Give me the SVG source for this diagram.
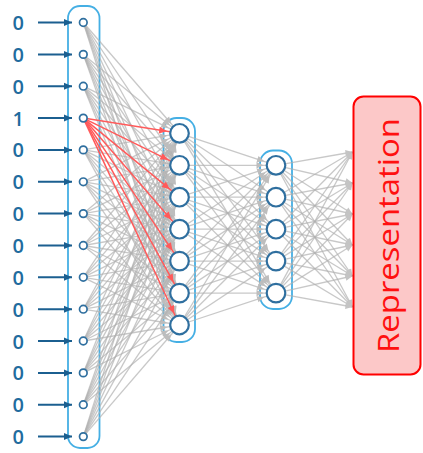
<svg xmlns="http://www.w3.org/2000/svg" width="423" height="453" viewBox="0 0 423 453">
  <style>
    .lbl { font-family: "Open Sans", "DejaVu Sans", sans-serif; font-size: 20px; font-weight: 600; fill: #1f6c9e; text-anchor: middle; }
    .box { fill: none; stroke: #45afe4; stroke-width: 1.8; }
    .in-node { fill: #ffffff; stroke: #2f6f9f; stroke-width: 1.7; }
    .h-node { fill: #ffffff; stroke: #2f6f9f; stroke-width: 2.2; }
    .feed { stroke: #1b5f90; stroke-width: 2; marker-end: url(#headBlue); }
    .w { stroke: #b0b0b0; stroke-opacity: 0.7; stroke-width: 1.3; marker-end: url(#headGray); }
    .wr { stroke: #b0b0b0; stroke-opacity: 0.7; stroke-width: 1.3; marker-end: url(#headGrayEdge); }
    .hot { stroke: #ff5a5a; stroke-width: 1.5; marker-end: url(#headRed); }
  </style>
  <defs>
    <marker id="headBlue" markerUnits="userSpaceOnUse" markerWidth="12" markerHeight="10" refX="10" refY="5" orient="auto" overflow="visible">
      <path d="M2,1.5 L10,5 L2,8.5 Z" fill="#1b5f90"/>
    </marker>
    <!-- tip stops short of the target circle -->
    <marker id="headGray" markerUnits="userSpaceOnUse" markerWidth="40" markerHeight="10" refX="32.5" refY="5" orient="auto" overflow="visible">
      <path d="M13,1.8 L20,5 L13,8.2 Z" fill="#bdbdbd"/>
    </marker>
    <marker id="headGrayEdge" markerUnits="userSpaceOnUse" markerWidth="12" markerHeight="10" refX="10" refY="5" orient="auto" overflow="visible">
      <path d="M3,1.8 L10,5 L3,8.2 Z" fill="#c4c4c4"/>
    </marker>
    <marker id="headRed" markerUnits="userSpaceOnUse" markerWidth="40" markerHeight="10" refX="32.5" refY="5" orient="auto" overflow="visible">
      <path d="M12,1.5 L20,5 L12,8.5 Z" fill="#ff5a5a"/>
    </marker>
  </defs>

  <rect width="423" height="453" fill="#ffffff"/>

  <!-- layer frames -->
  <g id="frames">
    <rect id="input-frame" class="box" x="68" y="6" width="31.5" height="442" rx="12"/>
    <rect id="hidden1-frame" class="box" x="163.5" y="118" width="31.5" height="224" rx="13"/>
    <rect id="hidden2-frame" class="box" x="260" y="150.5" width="32" height="158.5" rx="13"/>
  </g>

  <!-- input values -->
  <g id="inputs">
    <text class="lbl" x="18.3" y="30">0</text>
    <text class="lbl" x="18.3" y="61.9">0</text>
    <text class="lbl" x="18.3" y="93.7">0</text>
    <text class="lbl" x="18.3" y="125.6">1</text>
    <text class="lbl" x="18.3" y="157.4">0</text>
    <text class="lbl" x="18.3" y="189.3">0</text>
    <text class="lbl" x="18.3" y="221.1">0</text>
    <text class="lbl" x="18.3" y="253">0</text>
    <text class="lbl" x="18.3" y="284.8">0</text>
    <text class="lbl" x="18.3" y="316.7">0</text>
    <text class="lbl" x="18.3" y="348.5">0</text>
    <text class="lbl" x="18.3" y="380.4">0</text>
    <text class="lbl" x="18.3" y="412.2">0</text>
    <text class="lbl" x="18.3" y="444.1">0</text>
  </g>

  <g id="connectors">
    <!-- value -> input unit -->
    <g id="feeds">
      <line class="feed" x1="38" y1="22.5" x2="72" y2="22.5"/>
      <line class="feed" x1="38" y1="54.4" x2="72" y2="54.4"/>
      <line class="feed" x1="38" y1="86.2" x2="72" y2="86.2"/>
      <line class="feed" x1="38" y1="118.1" x2="72" y2="118.1"/>
      <line class="feed" x1="38" y1="149.9" x2="72" y2="149.9"/>
      <line class="feed" x1="38" y1="181.8" x2="72" y2="181.8"/>
      <line class="feed" x1="38" y1="213.6" x2="72" y2="213.6"/>
      <line class="feed" x1="38" y1="245.5" x2="72" y2="245.5"/>
      <line class="feed" x1="38" y1="277.3" x2="72" y2="277.3"/>
      <line class="feed" x1="38" y1="309.2" x2="72" y2="309.2"/>
      <line class="feed" x1="38" y1="341" x2="72" y2="341"/>
      <line class="feed" x1="38" y1="372.9" x2="72" y2="372.9"/>
      <line class="feed" x1="38" y1="404.7" x2="72" y2="404.7"/>
      <line class="feed" x1="38" y1="436.6" x2="72" y2="436.6"/>
    </g>

    <!-- input -> hidden layer 1 -->
    <g id="w1">
      <line class="w" x1="83.3" y1="22.5" x2="179.5" y2="133.3"/><line class="w" x1="83.3" y1="22.5" x2="179.5" y2="165.3"/><line class="w" x1="83.3" y1="22.5" x2="179.5" y2="197.2"/><line class="w" x1="83.3" y1="22.5" x2="179.5" y2="229.2"/><line class="w" x1="83.3" y1="22.5" x2="179.5" y2="261.1"/><line class="w" x1="83.3" y1="22.5" x2="179.5" y2="293.1"/><line class="w" x1="83.3" y1="22.5" x2="179.5" y2="325"/>
      <line class="w" x1="83.3" y1="54.4" x2="179.5" y2="133.3"/><line class="w" x1="83.3" y1="54.4" x2="179.5" y2="165.3"/><line class="w" x1="83.3" y1="54.4" x2="179.5" y2="197.2"/><line class="w" x1="83.3" y1="54.4" x2="179.5" y2="229.2"/><line class="w" x1="83.3" y1="54.4" x2="179.5" y2="261.1"/><line class="w" x1="83.3" y1="54.4" x2="179.5" y2="293.1"/><line class="w" x1="83.3" y1="54.4" x2="179.5" y2="325"/>
      <line class="w" x1="83.3" y1="86.2" x2="179.5" y2="133.3"/><line class="w" x1="83.3" y1="86.2" x2="179.5" y2="165.3"/><line class="w" x1="83.3" y1="86.2" x2="179.5" y2="197.2"/><line class="w" x1="83.3" y1="86.2" x2="179.5" y2="229.2"/><line class="w" x1="83.3" y1="86.2" x2="179.5" y2="261.1"/><line class="w" x1="83.3" y1="86.2" x2="179.5" y2="293.1"/><line class="w" x1="83.3" y1="86.2" x2="179.5" y2="325"/>
      <line class="w" x1="83.3" y1="149.9" x2="179.5" y2="133.3"/><line class="w" x1="83.3" y1="149.9" x2="179.5" y2="165.3"/><line class="w" x1="83.3" y1="149.9" x2="179.5" y2="197.2"/><line class="w" x1="83.3" y1="149.9" x2="179.5" y2="229.2"/><line class="w" x1="83.3" y1="149.9" x2="179.5" y2="261.1"/><line class="w" x1="83.3" y1="149.9" x2="179.5" y2="293.1"/><line class="w" x1="83.3" y1="149.9" x2="179.5" y2="325"/>
      <line class="w" x1="83.3" y1="181.8" x2="179.5" y2="133.3"/><line class="w" x1="83.3" y1="181.8" x2="179.5" y2="165.3"/><line class="w" x1="83.3" y1="181.8" x2="179.5" y2="197.2"/><line class="w" x1="83.3" y1="181.8" x2="179.5" y2="229.2"/><line class="w" x1="83.3" y1="181.8" x2="179.5" y2="261.1"/><line class="w" x1="83.3" y1="181.8" x2="179.5" y2="293.1"/><line class="w" x1="83.3" y1="181.8" x2="179.5" y2="325"/>
      <line class="w" x1="83.3" y1="213.6" x2="179.5" y2="133.3"/><line class="w" x1="83.3" y1="213.6" x2="179.5" y2="165.3"/><line class="w" x1="83.3" y1="213.6" x2="179.5" y2="197.2"/><line class="w" x1="83.3" y1="213.6" x2="179.5" y2="229.2"/><line class="w" x1="83.3" y1="213.6" x2="179.5" y2="261.1"/><line class="w" x1="83.3" y1="213.6" x2="179.5" y2="293.1"/><line class="w" x1="83.3" y1="213.6" x2="179.5" y2="325"/>
      <line class="w" x1="83.3" y1="245.5" x2="179.5" y2="133.3"/><line class="w" x1="83.3" y1="245.5" x2="179.5" y2="165.3"/><line class="w" x1="83.3" y1="245.5" x2="179.5" y2="197.2"/><line class="w" x1="83.3" y1="245.5" x2="179.5" y2="229.2"/><line class="w" x1="83.3" y1="245.5" x2="179.5" y2="261.1"/><line class="w" x1="83.3" y1="245.5" x2="179.5" y2="293.1"/><line class="w" x1="83.3" y1="245.5" x2="179.5" y2="325"/>
      <line class="w" x1="83.3" y1="277.3" x2="179.5" y2="133.3"/><line class="w" x1="83.3" y1="277.3" x2="179.5" y2="165.3"/><line class="w" x1="83.3" y1="277.3" x2="179.5" y2="197.2"/><line class="w" x1="83.3" y1="277.3" x2="179.5" y2="229.2"/><line class="w" x1="83.3" y1="277.3" x2="179.5" y2="261.1"/><line class="w" x1="83.3" y1="277.3" x2="179.5" y2="293.1"/><line class="w" x1="83.3" y1="277.3" x2="179.5" y2="325"/>
      <line class="w" x1="83.3" y1="309.2" x2="179.5" y2="133.3"/><line class="w" x1="83.3" y1="309.2" x2="179.5" y2="165.3"/><line class="w" x1="83.3" y1="309.2" x2="179.5" y2="197.2"/><line class="w" x1="83.3" y1="309.2" x2="179.5" y2="229.2"/><line class="w" x1="83.3" y1="309.2" x2="179.5" y2="261.1"/><line class="w" x1="83.3" y1="309.2" x2="179.5" y2="293.1"/><line class="w" x1="83.3" y1="309.2" x2="179.5" y2="325"/>
      <line class="w" x1="83.3" y1="341" x2="179.5" y2="133.3"/><line class="w" x1="83.3" y1="341" x2="179.5" y2="165.3"/><line class="w" x1="83.3" y1="341" x2="179.5" y2="197.2"/><line class="w" x1="83.3" y1="341" x2="179.5" y2="229.2"/><line class="w" x1="83.3" y1="341" x2="179.5" y2="261.1"/><line class="w" x1="83.3" y1="341" x2="179.5" y2="293.1"/><line class="w" x1="83.3" y1="341" x2="179.5" y2="325"/>
      <line class="w" x1="83.3" y1="372.9" x2="179.5" y2="133.3"/><line class="w" x1="83.3" y1="372.9" x2="179.5" y2="165.3"/><line class="w" x1="83.3" y1="372.9" x2="179.5" y2="197.2"/><line class="w" x1="83.3" y1="372.9" x2="179.5" y2="229.2"/><line class="w" x1="83.3" y1="372.9" x2="179.5" y2="261.1"/><line class="w" x1="83.3" y1="372.9" x2="179.5" y2="293.1"/><line class="w" x1="83.3" y1="372.9" x2="179.5" y2="325"/>
      <line class="w" x1="83.3" y1="404.7" x2="179.5" y2="133.3"/><line class="w" x1="83.3" y1="404.7" x2="179.5" y2="165.3"/><line class="w" x1="83.3" y1="404.7" x2="179.5" y2="197.2"/><line class="w" x1="83.3" y1="404.7" x2="179.5" y2="229.2"/><line class="w" x1="83.3" y1="404.7" x2="179.5" y2="261.1"/><line class="w" x1="83.3" y1="404.7" x2="179.5" y2="293.1"/><line class="w" x1="83.3" y1="404.7" x2="179.5" y2="325"/>
      <line class="w" x1="83.3" y1="436.6" x2="179.5" y2="133.3"/><line class="w" x1="83.3" y1="436.6" x2="179.5" y2="165.3"/><line class="w" x1="83.3" y1="436.6" x2="179.5" y2="197.2"/><line class="w" x1="83.3" y1="436.6" x2="179.5" y2="229.2"/><line class="w" x1="83.3" y1="436.6" x2="179.5" y2="261.1"/><line class="w" x1="83.3" y1="436.6" x2="179.5" y2="293.1"/><line class="w" x1="83.3" y1="436.6" x2="179.5" y2="325"/>
    </g>

    <!-- hidden layer 1 -> hidden layer 2 -->
    <g id="w2">
      <line class="w" x1="179.5" y1="133.3" x2="276" y2="165.3"/><line class="w" x1="179.5" y1="133.3" x2="276" y2="197.2"/><line class="w" x1="179.5" y1="133.3" x2="276" y2="229.2"/><line class="w" x1="179.5" y1="133.3" x2="276" y2="261.1"/><line class="w" x1="179.5" y1="133.3" x2="276" y2="293.1"/>
      <line class="w" x1="179.5" y1="165.3" x2="276" y2="165.3"/><line class="w" x1="179.5" y1="165.3" x2="276" y2="197.2"/><line class="w" x1="179.5" y1="165.3" x2="276" y2="229.2"/><line class="w" x1="179.5" y1="165.3" x2="276" y2="261.1"/><line class="w" x1="179.5" y1="165.3" x2="276" y2="293.1"/>
      <line class="w" x1="179.5" y1="197.2" x2="276" y2="165.3"/><line class="w" x1="179.5" y1="197.2" x2="276" y2="197.2"/><line class="w" x1="179.5" y1="197.2" x2="276" y2="229.2"/><line class="w" x1="179.5" y1="197.2" x2="276" y2="261.1"/><line class="w" x1="179.5" y1="197.2" x2="276" y2="293.1"/>
      <line class="w" x1="179.5" y1="229.2" x2="276" y2="165.3"/><line class="w" x1="179.5" y1="229.2" x2="276" y2="197.2"/><line class="w" x1="179.5" y1="229.2" x2="276" y2="229.2"/><line class="w" x1="179.5" y1="229.2" x2="276" y2="261.1"/><line class="w" x1="179.5" y1="229.2" x2="276" y2="293.1"/>
      <line class="w" x1="179.5" y1="261.1" x2="276" y2="165.3"/><line class="w" x1="179.5" y1="261.1" x2="276" y2="197.2"/><line class="w" x1="179.5" y1="261.1" x2="276" y2="229.2"/><line class="w" x1="179.5" y1="261.1" x2="276" y2="261.1"/><line class="w" x1="179.5" y1="261.1" x2="276" y2="293.1"/>
      <line class="w" x1="179.5" y1="293.1" x2="276" y2="165.3"/><line class="w" x1="179.5" y1="293.1" x2="276" y2="197.2"/><line class="w" x1="179.5" y1="293.1" x2="276" y2="229.2"/><line class="w" x1="179.5" y1="293.1" x2="276" y2="261.1"/><line class="w" x1="179.5" y1="293.1" x2="276" y2="293.1"/>
      <line class="w" x1="179.5" y1="325" x2="276" y2="165.3"/><line class="w" x1="179.5" y1="325" x2="276" y2="197.2"/><line class="w" x1="179.5" y1="325" x2="276" y2="229.2"/><line class="w" x1="179.5" y1="325" x2="276" y2="261.1"/><line class="w" x1="179.5" y1="325" x2="276" y2="293.1"/>
    </g>

    <!-- hidden layer 2 -> representation -->
    <g id="w3">
      <line class="wr" x1="276" y1="165.3" x2="352.5" y2="152"/><line class="wr" x1="276" y1="165.3" x2="352.5" y2="183"/><line class="wr" x1="276" y1="165.3" x2="352.5" y2="214"/><line class="wr" x1="276" y1="165.3" x2="352.5" y2="245"/><line class="wr" x1="276" y1="165.3" x2="352.5" y2="276"/><line class="wr" x1="276" y1="165.3" x2="352.5" y2="307"/>
      <line class="wr" x1="276" y1="197.2" x2="352.5" y2="152"/><line class="wr" x1="276" y1="197.2" x2="352.5" y2="183"/><line class="wr" x1="276" y1="197.2" x2="352.5" y2="214"/><line class="wr" x1="276" y1="197.2" x2="352.5" y2="245"/><line class="wr" x1="276" y1="197.2" x2="352.5" y2="276"/><line class="wr" x1="276" y1="197.2" x2="352.5" y2="307"/>
      <line class="wr" x1="276" y1="229.2" x2="352.5" y2="152"/><line class="wr" x1="276" y1="229.2" x2="352.5" y2="183"/><line class="wr" x1="276" y1="229.2" x2="352.5" y2="214"/><line class="wr" x1="276" y1="229.2" x2="352.5" y2="245"/><line class="wr" x1="276" y1="229.2" x2="352.5" y2="276"/><line class="wr" x1="276" y1="229.2" x2="352.5" y2="307"/>
      <line class="wr" x1="276" y1="261.1" x2="352.5" y2="152"/><line class="wr" x1="276" y1="261.1" x2="352.5" y2="183"/><line class="wr" x1="276" y1="261.1" x2="352.5" y2="214"/><line class="wr" x1="276" y1="261.1" x2="352.5" y2="245"/><line class="wr" x1="276" y1="261.1" x2="352.5" y2="276"/><line class="wr" x1="276" y1="261.1" x2="352.5" y2="307"/>
      <line class="wr" x1="276" y1="293.1" x2="352.5" y2="152"/><line class="wr" x1="276" y1="293.1" x2="352.5" y2="183"/><line class="wr" x1="276" y1="293.1" x2="352.5" y2="214"/><line class="wr" x1="276" y1="293.1" x2="352.5" y2="245"/><line class="wr" x1="276" y1="293.1" x2="352.5" y2="276"/><line class="wr" x1="276" y1="293.1" x2="352.5" y2="307"/>
    </g>

    <!-- active input fan-out -->
    <g id="active">
      <line class="hot" x1="83.3" y1="118.1" x2="179.5" y2="133.3"/>
      <line class="hot" x1="83.3" y1="118.1" x2="179.5" y2="165.3"/>
      <line class="hot" x1="83.3" y1="118.1" x2="179.5" y2="197.2"/>
      <line class="hot" x1="83.3" y1="118.1" x2="179.5" y2="229.2"/>
      <line class="hot" x1="83.3" y1="118.1" x2="179.5" y2="261.1"/>
      <line class="hot" x1="83.3" y1="118.1" x2="179.5" y2="293.1"/>
      <line class="hot" x1="83.3" y1="118.1" x2="179.5" y2="325"/>
    </g>
  </g>

  <!-- input units -->
  <g id="input-units">
    <circle id="x0" class="in-node" cx="83.3" cy="22.5" r="3.8"/>
    <circle id="x1" class="in-node" cx="83.3" cy="54.4" r="3.8"/>
    <circle id="x2" class="in-node" cx="83.3" cy="86.2" r="3.8"/>
    <circle id="x3" class="in-node" cx="83.3" cy="118.1" r="3.8"/>
    <circle id="x4" class="in-node" cx="83.3" cy="149.9" r="3.8"/>
    <circle id="x5" class="in-node" cx="83.3" cy="181.8" r="3.8"/>
    <circle id="x6" class="in-node" cx="83.3" cy="213.6" r="3.8"/>
    <circle id="x7" class="in-node" cx="83.3" cy="245.5" r="3.8"/>
    <circle id="x8" class="in-node" cx="83.3" cy="277.3" r="3.8"/>
    <circle id="x9" class="in-node" cx="83.3" cy="309.2" r="3.8"/>
    <circle id="x10" class="in-node" cx="83.3" cy="341" r="3.8"/>
    <circle id="x11" class="in-node" cx="83.3" cy="372.9" r="3.8"/>
    <circle id="x12" class="in-node" cx="83.3" cy="404.7" r="3.8"/>
    <circle id="x13" class="in-node" cx="83.3" cy="436.6" r="3.8"/>
  </g>

  <!-- hidden layer 1 -->
  <g id="hidden1">
    <circle id="h1-0" class="h-node" cx="179.5" cy="133.3" r="9.3"/>
    <circle id="h1-1" class="h-node" cx="179.5" cy="165.3" r="9.3"/>
    <circle id="h1-2" class="h-node" cx="179.5" cy="197.2" r="9.3"/>
    <circle id="h1-3" class="h-node" cx="179.5" cy="229.2" r="9.3"/>
    <circle id="h1-4" class="h-node" cx="179.5" cy="261.1" r="9.3"/>
    <circle id="h1-5" class="h-node" cx="179.5" cy="293.1" r="9.3"/>
    <circle id="h1-6" class="h-node" cx="179.5" cy="325" r="9.3"/>
  </g>

  <!-- hidden layer 2 -->
  <g id="hidden2">
    <circle id="h2-0" class="h-node" cx="276" cy="165.3" r="9.3"/>
    <circle id="h2-1" class="h-node" cx="276" cy="197.2" r="9.3"/>
    <circle id="h2-2" class="h-node" cx="276" cy="229.2" r="9.3"/>
    <circle id="h2-3" class="h-node" cx="276" cy="261.1" r="9.3"/>
    <circle id="h2-4" class="h-node" cx="276" cy="293.1" r="9.3"/>
  </g>

  <!-- output code -->
  <g id="representation">
    <rect x="353.5" y="96.5" width="67" height="278" rx="10" fill="#fcc8c8" stroke="#ff0000" stroke-width="2"/>
    <text transform="translate(398.5,235.5) rotate(-90)" text-anchor="middle" textLength="235" lengthAdjust="spacingAndGlyphs" font-family="'Open Sans', 'DejaVu Sans', sans-serif" font-size="29" fill="#ff1010">Representation</text>
  </g>
</svg>
